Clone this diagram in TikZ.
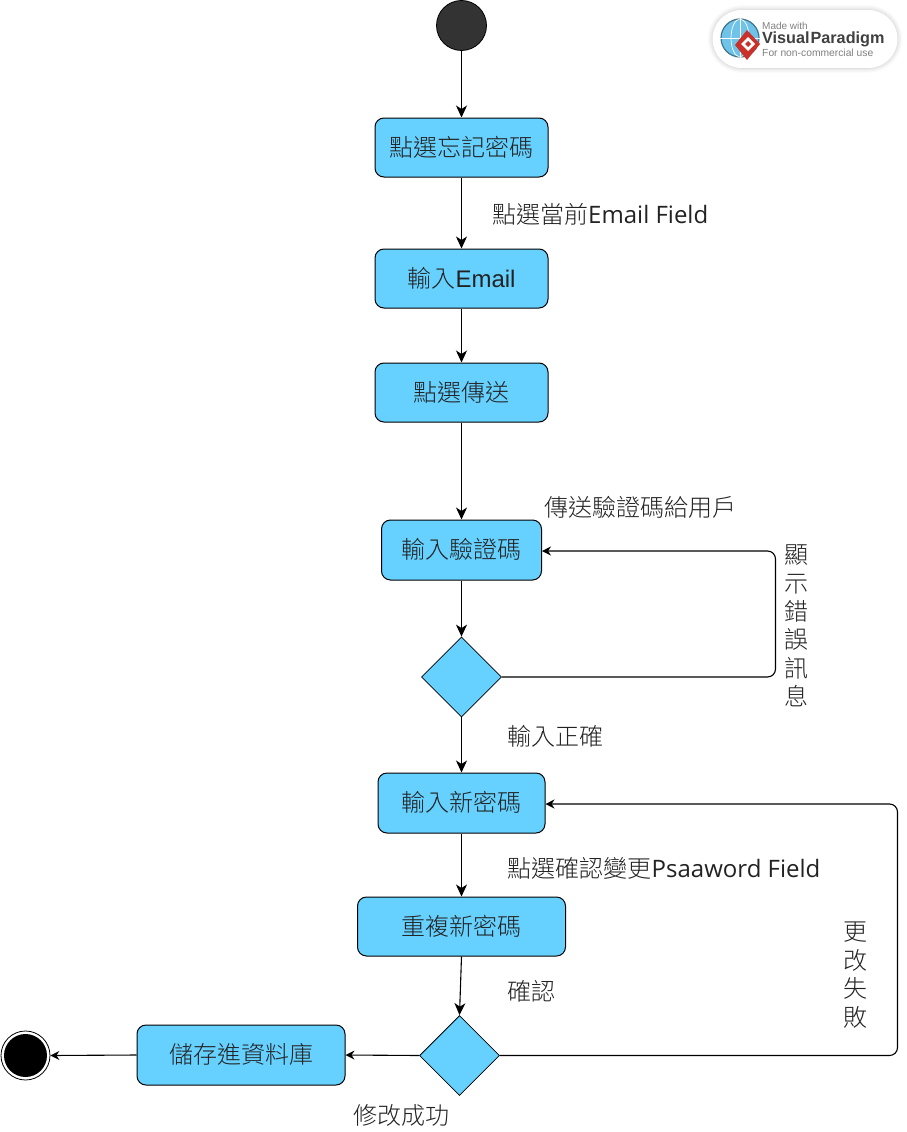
\documentclass[tikz,border=0pt]{standalone}
\usepackage{fontspec}
\usetikzlibrary{arrows.meta,shapes.geometric,shadows.blur}
\setmainfont{Open Sans}
\newfontfamily\cjk{Noto Sans CJK TC Light}
\newfontfamily\arialf{Liberation Sans}
\newcommand\boxtxt[1]{\raisebox{2.4pt}{#1}}
\definecolor{boxblue}{HTML}{66D1FF}
\definecolor{labeltext}{HTML}{222222}
\definecolor{globeblue}{HTML}{6FC3E8}
\definecolor{vpred}{HTML}{C8322A}
\tikzset{
  x=1pt,y=-1pt,
  actbox/.style={draw=black,line width=1pt,fill=boxblue,rounded corners=9pt,anchor=center,inner sep=0pt,
    font=\fontsize{24pt}{28pt}\selectfont\cjk,text=labeltext},
  choice/.style={draw=black,line width=0.8pt,fill=boxblue,diamond,aspect=1,inner sep=0pt,minimum size=80pt},
  flow/.style={draw=black,line width=1.1pt,-{Stealth[length=12pt,width=11pt,inset=3.5pt]}},
  back/.style={draw=black,line width=1.1pt,rounded corners=8pt,-{Stealth[length=9pt,width=9pt,inset=3pt]}},
  lab/.style={anchor=west,inner sep=0pt,font=\fontsize{24pt}{28pt}\selectfont\cjk,text=labeltext},
  vlab/.style={anchor=center,inner sep=0pt,align=center,font=\fontsize{24pt}{28.4pt}\selectfont\cjk,text=labeltext},
}
\begin{document}
\begin{tikzpicture}
\useasboundingbox (0,0) rectangle (906,1132);
% logo
\node (badge) [draw=none,fill=white,rounded corners=29pt,minimum width=185pt,minimum height=58pt,inner sep=0pt,
  blur shadow={shadow xshift=0pt,shadow yshift=0pt,shadow blur radius=5pt,shadow opacity=25}] at (805,39) {};
\node (globe) [circle,draw=black!40!globeblue,line width=1.2pt,fill=globeblue,minimum size=38pt,inner sep=0pt] at (740,38) {};
\draw[white,line width=0.7pt] (globe.north) -- (globe.south) (globe.west) -- (globe.east);
\draw[white,line width=0.7pt] (globe.center) ellipse (9 and 19);
\fill[vpred] (747,30) -- (760,44) -- (747,60) -- (735,45) -- cycle;
\fill[white] (748,37) -- (755,44) -- (748,51) -- (741,44) -- cycle;
\fill[vpred] (748,41) -- (751,44) -- (748,47) -- (745,44) -- cycle;
\node (vpa) [anchor=west,inner sep=0pt,text=black!50,font=\fontsize{10pt}{12pt}\selectfont\arialf] at (762,26) {Made with};
\node (vpb) [anchor=west,inner sep=0pt,text=black!75,font=\fontsize{16.2pt}{18pt}\selectfont\arialf\bfseries] at (762,39.5) {Visual\kern1pt Paradigm};
\node (vpc) [anchor=west,inner sep=0pt,text=black!50,font=\fontsize{10.3pt}{12pt}\selectfont\arialf] at (762,53) {For non-commercial use};

% nodes
\node (start) [circle,draw=black,line width=0.8pt,fill=black!80,minimum size=50pt,inner sep=0pt] at (461.5,25.5) {};
\node (b1) [actbox,minimum width=173pt,minimum height=59pt] at (461.5,147.5) {\boxtxt{點選忘記密碼}};
\node (b2) [actbox,minimum width=173pt,minimum height=59pt] at (461.5,278.5) {\boxtxt{輸入{\arialf Email}}};
\node (b3) [actbox,minimum width=173pt,minimum height=59pt] at (461.5,392.5) {\boxtxt{點選傳送}};
\node (b4) [actbox,minimum width=160pt,minimum height=60pt] at (461.5,550) {\boxtxt{輸入驗證碼}};
\node (d1) [choice] at (461.5,677) {};
\node (b5) [actbox,minimum width=167pt,minimum height=60pt] at (461.5,803) {\boxtxt{輸入新密碼}};
\node (b6) [actbox,minimum width=208pt,minimum height=59pt] at (461.5,926.5) {\boxtxt{重複新密碼}};
\node (d2) [choice] at (459.5,1055.5) {};
\node (b7) [actbox,minimum width=208pt,minimum height=60pt] at (241,1055) {\boxtxt{儲存進資料庫}};
\node (stopo) [circle,draw=black,line width=0.8pt,fill=white,minimum size=49pt,inner sep=0pt] at (25.5,1055.5) {};
\node (stopi) [circle,fill=black,minimum size=43pt,inner sep=0pt] at (25.5,1055.5) {};

% connectors
\coordinate (c1) at (775.5,677);
\coordinate (c2) at (775.5,551);
\coordinate (c3) at (897.5,1055.5);
\coordinate (c4) at (897.5,804);
\draw[flow] (start.south) -- (b1.north);
\draw[flow] (b1.south) -- (b2.north);
\draw[flow] (b2.south) -- (b3.north);
\draw[flow] (b3.south) -- (b4.north);
\draw[flow] (b4.south) -- (d1.north);
\draw[flow] (d1.south) -- (b5.north);
\draw[flow] (b5.south) -- (b6.north);
\draw[flow] (b6.south) -- (d2.north);
\draw[back] (d2.west) -- (b7.east);
\draw[back] (b7.west) -- (stopo.east);
\draw[back] (d1.east) -- (c1) -- (c2) -- (b4.east |- c2);
\draw[back] (d2.east) -- (c3) -- (c4) -- (b5.east |- c4);

% labels
\node (l1) [lab] at (492,214) {點選當前{\fontspec{Open Sans}Email Field}};
\node (l2) [lab] at (544,507) {傳送驗證碼給用戶};
\node (l3) [lab] at (507.5,736) {輸入正確};
\node (l4) [lab] at (507.5,868) {點選確認變更{\fontspec{Open Sans}Psaaword Field}};
\node (l5) [lab] at (507.5,991) {確認};
\node (l6) [lab] at (353,1115) {修改成功};
\node (l7) [vlab] at (796.5,626) {顯\\示\\錯\\誤\\訊\\息};
\node (l8) [vlab] at (855,975) {更\\改\\失\\敗};
\end{tikzpicture}
\end{document}
